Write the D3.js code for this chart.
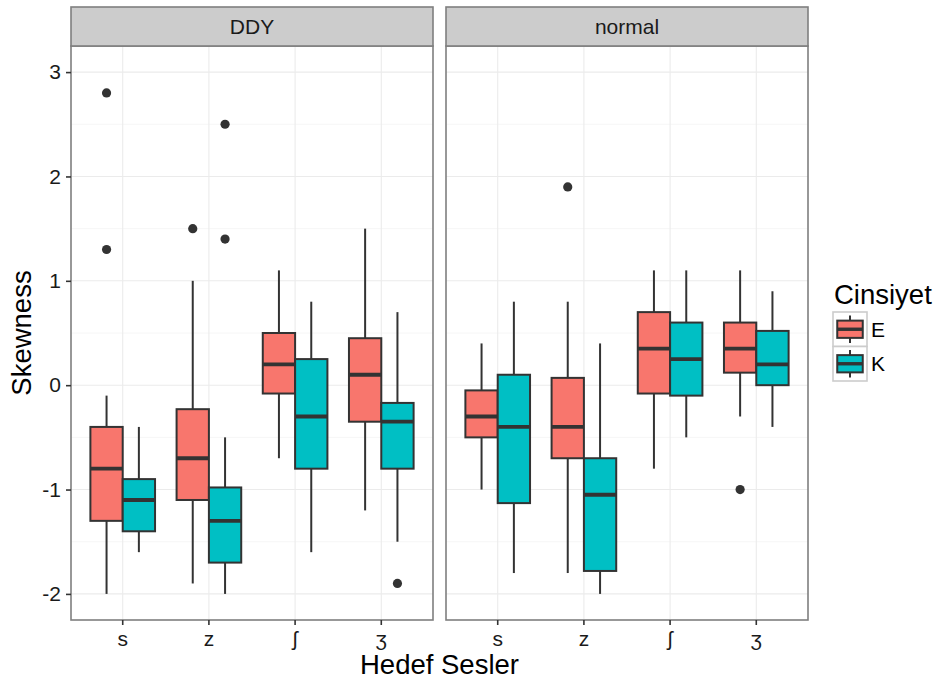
<!DOCTYPE html>
<html><head><meta charset="utf-8">
<script src="https://cdn.jsdelivr.net/npm/d3@7"></script>
<style>body{margin:0;background:#fff}svg{display:block}text{font-family:"Liberation Sans",Arial,Helvetica,sans-serif}</style>
</head><body>
<script>
// ---- data ----
const panels = ["DDY", "normal"];
const categories = ["s", "z", "ʃ", "ʒ"];
const groups = ["E", "K"];
const yTicks = [-2, -1, 0, 1, 2, 3];
// each entry: [lowerWhisker, q1, median, q3, upperWhisker]
const ddyE = [[-2.0, -1.3, -0.8, -0.4, -0.1], [-1.9, -1.1, -0.7, -0.23, 1.0], [-0.7, -0.08, 0.2, 0.5, 1.1], [-1.2, -0.35, 0.1, 0.45, 1.5]];
const ddyK = [[-1.6, -1.4, -1.1, -0.9, -0.4], [-2.0, -1.7, -1.3, -0.98, -0.5], [-1.6, -0.8, -0.3, 0.25, 0.8], [-1.5, -0.8, -0.35, -0.17, 0.7]];
const normalE = [[-1.0, -0.5, -0.3, -0.05, 0.4], [-1.8, -0.7, -0.4, 0.07, 0.8], [-0.8, -0.08, 0.35, 0.7, 1.1], [-0.3, 0.12, 0.35, 0.6, 1.1]];
const normalK = [[-1.8, -1.13, -0.4, 0.1, 0.8], [-2.0, -1.78, -1.05, -0.7, 0.4], [-0.5, -0.1, 0.25, 0.6, 1.1], [-0.4, 0.0, 0.2, 0.52, 0.9]];
// outliers: [category, value]
const ddyEOut = [["s", 2.8], ["s", 1.3], ["z", 1.5]];
const ddyKOut = [["z", 2.5], ["z", 1.4], ["ʒ", -1.9]];
const normalEOut = [["z", 1.9], ["ʒ", -1.0]];
const normalKOut = [];
const colors = ["#F8766D", "#00BFC4"];

const stats = {DDY: {E: ddyE, K: ddyK}, normal: {E: normalE, K: normalK}};
const outs = {DDY: {E: ddyEOut, K: ddyKOut}, normal: {E: normalEOut, K: normalKOut}};

// ---- layout ----
const W = 938, H = 682;
const panelX = [[71, 433], [446, 808]];
const pTop = 46, pBottom = 620, stripTop = 7;
const font = 'Liberation Sans, Arial, Helvetica, sans-serif';
const lw = 2.0, medW = 3.8;

const svg = d3.select("body").append("svg").attr("width", W).attr("height", H);
const y = d3.scaleLinear().domain([-2.25, 3.25]).range([pBottom, pTop]);
const color = d3.scaleOrdinal().domain(groups).range(colors);

panels.forEach((p, pi) => {
  const [x0, x1] = panelX[pi];
  const x = d3.scaleBand().domain(categories).range([x0, x1]).paddingInner(0).paddingOuter(0.1);
  const step = x.step();
  const inner = d3.scaleBand().domain(groups).range([0, step * 0.75]).padding(0);
  const g = svg.append("g");

  g.append("rect").attr("x", x0).attr("y", pTop).attr("width", x1 - x0).attr("height", pBottom - pTop).attr("fill", "#fff");
  const minor = d3.range(-2.5, 3.5, 1).filter(v => y(v) > pTop && y(v) < pBottom);
  g.selectAll(".minor").data(minor).join("line")
    .attr("x1", x0).attr("x2", x1).attr("y1", d => y(d)).attr("y2", d => y(d))
    .attr("stroke", "#F4F4F4").attr("stroke-width", 0.8);
  g.selectAll(".majy").data(yTicks).join("line")
    .attr("x1", x0).attr("x2", x1).attr("y1", d => y(d)).attr("y2", d => y(d))
    .attr("stroke", "#EBEBEB").attr("stroke-width", 1.1);
  g.selectAll(".majx").data(categories).join("line")
    .attr("x1", d => x(d) + step / 2).attr("x2", d => x(d) + step / 2).attr("y1", pTop).attr("y2", pBottom)
    .attr("stroke", "#EBEBEB").attr("stroke-width", 1.1);

  groups.forEach(gr => {
    const st = stats[p][gr];
    categories.forEach((c, ci) => {
      const s = st[ci];
      const bx = x(c) + step * 0.125 + inner(gr);
      const bw = inner.bandwidth();
      const cx = bx + bw / 2;
      g.append("line").attr("x1", cx).attr("x2", cx).attr("y1", y(s[4])).attr("y2", y(s[3]))
        .attr("stroke", "#333").attr("stroke-width", lw);
      g.append("line").attr("x1", cx).attr("x2", cx).attr("y1", y(s[1])).attr("y2", y(s[0]))
        .attr("stroke", "#333").attr("stroke-width", lw);
      g.append("rect").attr("x", bx).attr("y", y(s[3])).attr("width", bw).attr("height", y(s[1]) - y(s[3]))
        .attr("fill", color(gr)).attr("stroke", "#333").attr("stroke-width", lw);
      g.append("line").attr("x1", bx).attr("x2", bx + bw).attr("y1", y(s[2])).attr("y2", y(s[2]))
        .attr("stroke", "#333").attr("stroke-width", medW);
    });
    outs[p][gr].forEach(([c, v]) => {
      const cx = x(c) + step * 0.125 + inner(gr) + inner.bandwidth() / 2;
      g.append("circle").attr("cx", cx).attr("cy", y(v)).attr("r", 4.6).attr("fill", "#333");
    });
  });

  g.append("rect").attr("x", x0).attr("y", pTop).attr("width", x1 - x0).attr("height", pBottom - pTop)
    .attr("fill", "none").attr("stroke", "#7F7F7F").attr("stroke-width", 1.6);
  g.append("rect").attr("x", x0).attr("y", stripTop).attr("width", x1 - x0).attr("height", pTop - stripTop)
    .attr("fill", "#CCCCCC").attr("stroke", "#7F7F7F").attr("stroke-width", 1.6);
  g.append("text").attr("x", (x0 + x1) / 2).attr("y", (stripTop + pTop) / 2 + 7.5)
    .attr("text-anchor", "middle").attr("font-size", 21).attr("fill", "#1A1A1A").text(p);

  const xa = svg.append("g").attr("transform", `translate(0,${pBottom})`)
    .call(d3.axisBottom(x).tickSize(5).tickPadding(6));
  xa.select(".domain").remove();
  xa.selectAll(".tick line").attr("stroke", "#333").attr("stroke-width", 1.6);
  xa.selectAll(".tick text").attr("font-size", 21).attr("fill", "#1A1A1A").attr("font-family", font);
});

const ya = svg.append("g").attr("transform", `translate(${panelX[0][0]},0)`)
  .call(d3.axisLeft(y).tickValues(yTicks).tickFormat(d => d3.format("d")(d).replace("−", "-")).tickSize(5).tickPadding(5));
ya.select(".domain").remove();
ya.selectAll(".tick line").attr("stroke", "#333").attr("stroke-width", 1.6);
ya.selectAll(".tick text").attr("font-size", 21).attr("fill", "#1A1A1A").attr("font-family", font);

svg.append("text").attr("x", (panelX[0][0] + panelX[1][1]) / 2 + 0).attr("y", 674)
  .attr("text-anchor", "middle").attr("font-size", 27.5).attr("fill", "#000").text("Hedef Sesler");
svg.append("text").attr("transform", `translate(31,${(pTop + pBottom) / 2}) rotate(-90)`)
  .attr("text-anchor", "middle").attr("font-size", 27.5).attr("fill", "#000").text("Skewness");

const lg = svg.append("g");
lg.append("text").attr("x", 834).attr("y", 304).attr("font-size", 27.5).attr("fill", "#000").text("Cinsiyet");
groups.forEach((gr, i) => {
  const ky = 312 + i * 34.5, kx = 833, kw = 34, kh = 34.5;
  lg.append("rect").attr("x", kx).attr("y", ky).attr("width", kw).attr("height", kh)
    .attr("fill", "#fff").attr("stroke", "#CCCCCC").attr("stroke-width", 1.6);
  const cx = kx + kw / 2;
  lg.append("line").attr("x1", cx).attr("x2", cx).attr("y1", ky + kh * 0.1).attr("y2", ky + kh * 0.9)
    .attr("stroke", "#333").attr("stroke-width", lw);
  lg.append("rect").attr("x", kx + kw * 0.125).attr("y", ky + kh * 0.25).attr("width", kw * 0.75).attr("height", kh * 0.5)
    .attr("fill", color(gr)).attr("stroke", "#333").attr("stroke-width", lw);
  lg.append("line").attr("x1", kx + kw * 0.125).attr("x2", kx + kw * 0.875).attr("y1", ky + kh / 2).attr("y2", ky + kh / 2)
    .attr("stroke", "#333").attr("stroke-width", 3.4);
  lg.append("text").attr("x", kx + kw + 4).attr("y", ky + kh / 2 + 7.5).attr("font-size", 21).attr("fill", "#000").text(gr);
});
</script>
</body></html>
